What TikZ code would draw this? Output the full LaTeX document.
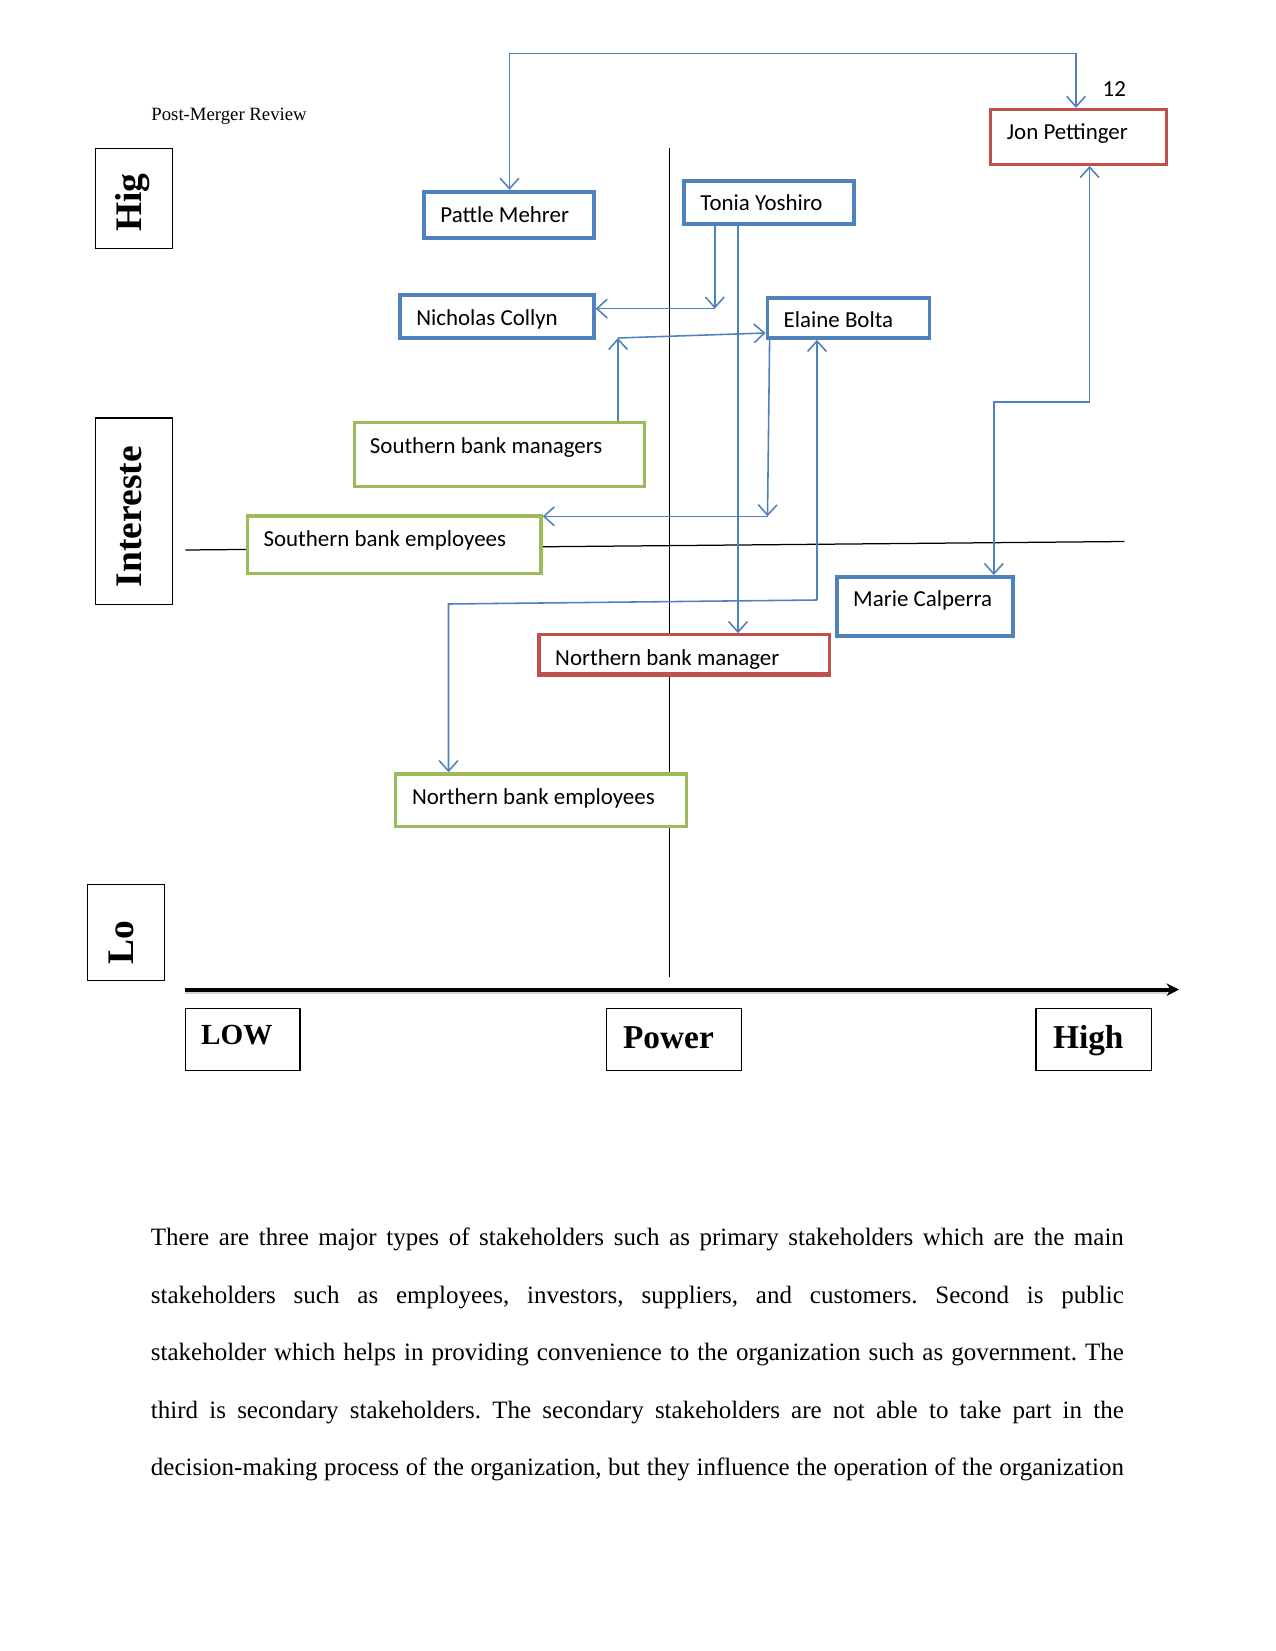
\documentclass[tikz,border=0pt]{standalone}
\usepackage{fontspec}
\setmainfont{Liberation Serif}
\newfontfamily\calfont{Carlito}
\usetikzlibrary{arrows.meta}
\definecolor{oblue}{HTML}{4F81BD}
\definecolor{ored}{HTML}{C0504D}
\definecolor{ogreen}{HTML}{9BBB59}
\tikzset{
  sbox/.style={draw, line width=1.6pt, fill=white, inner sep=0pt, rectangle},
  bluebox/.style={sbox, draw=oblue, line width=1.8pt},
  redbox/.style={sbox, draw=ored},
  greenbox/.style={sbox, draw=ogreen},
  btext/.style={anchor=base west, inner sep=0pt, font=\calfont\fontsize{11pt}{13pt}\selectfont},
  axbox/.style={draw=black, line width=0.6pt, fill=white, inner sep=0pt, rectangle},
  axtext/.style={anchor=base, inner sep=0pt, font=\bfseries\fontsize{18pt}{20pt}\selectfont, rotate=90},
  powtext/.style={anchor=base west, inner sep=0pt, font=\bfseries\fontsize{16pt}{18pt}\selectfont},
  conn/.style={draw=oblue, line width=0.75pt},
  tip/.style={-{Straight Barb[length=5pt,width=9pt]}},
  bothtips/.style={{Straight Barb[length=5pt,width=9pt]}-{Straight Barb[length=5pt,width=9pt]}},
  quad/.style={draw=black, line width=0.6pt},
}
\begin{document}
\begin{tikzpicture}[x=0.48pt,y=-0.48pt]
\useasboundingbox[fill=white] (0,0) rectangle (1275,1651);

% header and page number
\node[anchor=base west, inner sep=0pt, font=\fontsize{9pt}{11pt}\selectfont] (hdr) at (151,120.7) {Post-Merger Review};
\node[btext] (pgnum) at (1102.3,96.9) {12};

% quadrant lines
\coordinate (v0) at (669.6,148.4);
\coordinate (v1) at (669.6,977);
\coordinate (h0) at (185.3,550);
\coordinate (h1) at (1124.4,541.5);
\draw[quad] (v0) -- (v1);
\draw[quad] (h0) -- (h1);

% power axis
\coordinate (ax0) at (185.3,989.6);
\coordinate (ax1) at (1179,989.6);
\draw[gray!35, line width=2pt] ([yshift=-1.2pt]ax0) -- ([yshift=-1.2pt,xshift=-6pt]ax1);
\draw[line width=2pt, -{Stealth[length=6pt,width=6pt]}] (ax0) -- (ax1);

% stakeholder boxes
\node[redbox, minimum width=84.4pt, minimum height=26.3pt] (jon) at (1078.6,136.9) {};
\node[btext] (jon-t) at (1006.5,139.3) {Jon Pettinger};
\node[bluebox, minimum width=81.4pt, minimum height=22.2pt] (pattle) at (509,214.8) {};
\node[btext] (pattle-t) at (440,222.3) {Pattle Mehrer};
\node[bluebox, minimum width=81.4pt, minimum height=20.7pt] (tonia) at (769,202.6) {};
\node[btext] (tonia-t) at (700,211) {Tonia Yoshiro};
\node[bluebox, minimum width=93pt, minimum height=20.7pt] (nich) at (496.9,316.4) {};
\node[btext] (nich-t) at (415.9,325.5) {Nicholas Collyn};
\node[bluebox, minimum width=77.8pt, minimum height=19.2pt] (elaine) at (848.5,318) {};
\node[btext] (elaine-t) at (783.3,327.3) {Elaine Bolta};
\node[greenbox, minimum width=139pt, minimum height=30.8pt] (sbm) at (499.5,454.3) {};
\node[btext] (sbm-t) at (369.5,453.3) {Southern bank managers};
\node[greenbox, minimum width=141pt, minimum height=27.8pt] (sbe) at (394.2,544.8) {};
\node[btext] (sbe-t) at (263.2,546.7) {Southern bank employees};
\node[bluebox, minimum width=84.4pt, minimum height=28.3pt] (marie) at (924.9,606.4) {};
\node[btext] (marie-t) at (852.8,606.7) {Marie Calperra};
\node[redbox, minimum width=139.5pt, minimum height=18.7pt] (nbm) at (684.3,654.3) {};
\node[btext] (nbm-t) at (554.8,665) {Northern bank manager};
\draw[ored, line width=1.6pt] (nbm.south west) -- (nbm.south east);
\node[greenbox, minimum width=139.5pt, minimum height=25.2pt] (nbe) at (541.1,800.1) {};
\node[btext] (nbe-t) at (411.6,804.3) {Northern bank employees};

% axis label boxes
\node[axbox, minimum width=36.9pt, minimum height=48pt] (hig) at (134.25,198.45) {};
\node[axtext] (hig-t) at (141,202.5) {Hig};
\node[axbox, minimum width=36.9pt, minimum height=89.4pt] (int) at (134.25,511.15) {};
\node[axtext] (int-t) at (141,516.7) {Intereste};
\node[axbox, minimum width=36.9pt, minimum height=46pt] (lo) at (125.8,932.3) {};
\node[axtext] (lo-t) at (133.7,942.8) {Lo};
\node[axbox, minimum width=55.1pt, minimum height=29.8pt] (low) at (242.65,1039.65) {};
\node[anchor=base west, inner sep=0pt, font=\bfseries\fontsize{14pt}{16pt}\selectfont] (low-t) at (200.7,1044.3) {LOW};
\node[axbox, minimum width=64.7pt, minimum height=29.8pt] (power) at (673.8,1039.65) {};
\node[powtext] (power-t) at (622.7,1048.3) {Power};
\node[axbox, minimum width=55.6pt, minimum height=29.8pt] (high) at (1093.9,1039.65) {};
\node[powtext] (high-t) at (1052.7,1048.3) {High};

% connectors
\coordinate (t1) at (509.5,53.7);
\coordinate (t2) at (1076,53.7);
\draw[conn, bothtips] (t1 |- pattle.north) -- (t1) -- (t2) -- (t2 |- jon.north);

\coordinate (c2) at (714.8,308.6);
\draw[conn, tip] (c2 |- tonia.south) -- (c2);
\draw[conn, tip] (c2) -- (c2 -| nich.east);

\coordinate (c3) at (738,400);
\draw[conn, tip] (c3 |- tonia.south) -- (c3 |- nbm.north);

\coordinate (c4) at (618,338);
\coordinate (c4b) at (700,333);
\draw[conn, tip] (c4 |- sbm.north) -- (c4);
\draw[conn, tip] (c4) -- (c4b -| elaine.west);

\coordinate (c5a) at (769.6,400);
\coordinate (c5) at (767.5,516.3);
\draw[conn, tip] (c5a |- elaine.south) -- (c5);
\draw[conn, tip] (c5) -- (c5 -| sbe.east);

\coordinate (c6a) at (817,600);
\coordinate (c6b) at (448.5,604);
\draw[conn, tip] (c6a) -- (c6a |- elaine.south);
\draw[conn, tip] (c6a) -- (c6b) -- (c6b |- nbe.north);

\coordinate (c7a) at (1089.6,402.2);
\coordinate (c7b) at (993.8,402.2);
\draw[conn, tip] (c7a) -- (c7a |- jon.south);
\draw[conn, tip] (c7a) -- (c7b) -- (c7b |- marie.north);

% body paragraph
\node[anchor=base west, inner sep=0pt, text width=467pt, align=justify,
      font=\fontsize{12pt}{27.6pt}\selectfont] (body) at (150.5,1245.5)
{\frenchspacing\parfillskip=0pt \tolerance=9999 \hyphenpenalty=10000
There are three major types of stakeholders such as primary stakeholders which are the main\linebreak
stakeholders such as employees, investors, suppliers, and customers. Second is public\linebreak
stakeholder which helps in providing convenience to the organization such as government. The\linebreak
third is secondary stakeholders. The secondary stakeholders are not able to take part in the\linebreak
decision-making process of the organization, but they influence the operation of the organization\par};
\end{tikzpicture}
\end{document}
